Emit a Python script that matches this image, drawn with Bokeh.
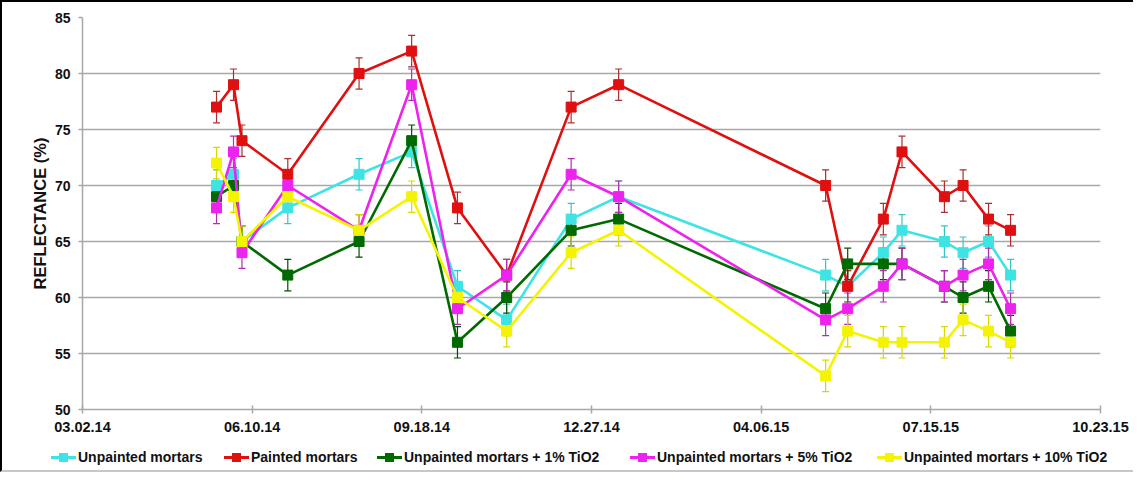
import pandas as pd
from bokeh.plotting import figure
from bokeh.layouts import column
from bokeh.models import (ColumnDataSource, Whisker, FixedTicker, Div,
                          DatetimeTickFormatter, Range1d, TeeHead)
from bokeh.embed import file_html
from bokeh.resources import INLINE

# ---- data ----
DATES = ["2014-05-20", "2014-05-30", "2014-06-04", "2014-07-01", "2014-08-12",
         "2014-09-12", "2014-10-09", "2014-11-07", "2014-12-15", "2015-01-12",
         "2015-05-14", "2015-05-27", "2015-06-17", "2015-06-28", "2015-07-23",
         "2015-08-03", "2015-08-18", "2015-08-31"]

SERIES_NAMES = ["Unpainted mortars", "Painted mortars", "Unpainted mortars + 1% TiO2",
                "Unpainted mortars + 5% TiO2", "Unpainted mortars + 10% TiO2"]

UNPAINTED = [70, 71, 65, 68, 71, 73, 61, 58, 67, 69, 62, 61, 64, 66, 65, 64, 65, 62]
PAINTED = [77, 79, 74, 71, 80, 82, 68, 62, 77, 79, 70, 61, 67, 73, 69, 70, 67, 66]
TIO2_1 = [69, 70, 65, 62, 65, 74, 56, 60, 66, 67, 59, 63, 63, 63, 61, 60, 61, 57]
TIO2_5 = [68, 73, 64, 70, 66, 79, 59, 62, 71, 69, 58, 59, 61, 63, 61, 62, 63, 59]
TIO2_10 = [72, 69, 65, 69, 66, 69, 60, 57, 64, 66, 53, 57, 56, 56, 56, 58, 57, 56]

ERR_UNPAINTED = [1.4] * 18
ERR_PAINTED = [1.4] * 18
ERR_TIO2_1 = [1.4] * 18
ERR_TIO2_5 = [1.4] * 18
ERR_TIO2_10 = [1.4] * 18

TICK_DATES = ["2014-03-02", "2014-06-10", "2014-09-18", "2014-12-27",
              "2015-04-06", "2015-07-15", "2015-10-23"]
Y_TICKS = [50, 55, 60, 65, 70, 75, 80, 85]
Y_LABEL = "REFLECTANCE (%)"

COLORS = ["#3ee4e4", "#e01010", "#006a00", "#ee22ee", "#f4f400"]
ERR_COLORS = ["#38c4c4", "#a83030", "#004d00", "#b030b0", "#d8d800"]

FONT = "Liberation Sans"
LEGEND_LEFTS = [49, 222, 375, 628, 875]   # layout: left edge of each legend entry (px)

# ---- main figure ----
dates = pd.to_datetime(DATES)
tick_ms = [int(pd.Timestamp(d).value // 10**6) for d in TICK_DATES]

p = figure(width=1133, height=442, x_axis_type="datetime",
           output_backend="svg", toolbar_location=None,
           x_range=Range1d(pd.Timestamp(TICK_DATES[0]), pd.Timestamp(TICK_DATES[-1])),
           y_range=Range1d(Y_TICKS[0], Y_TICKS[-1]),
           min_border_left=80, min_border_right=35, min_border_top=15,
           min_border_bottom=35)
p.styles = {"border-left": "2px solid #000", "border-top": "2px solid #000"}
p.outline_line_color = None
p.background_fill_color = "white"
p.border_fill_color = "white"

p.xgrid.grid_line_color = None
p.ygrid.grid_line_color = "#a8a8a8"
p.ygrid.grid_line_width = 1.5

p.xaxis.ticker = FixedTicker(ticks=tick_ms)
fmt = "%m.%d.%y"
p.xaxis.formatter = DatetimeTickFormatter(milliseconds=fmt, seconds=fmt, minsec=fmt,
                                          minutes=fmt, hourmin=fmt, hours=fmt, days=fmt,
                                          months=fmt, years=fmt)
p.yaxis.ticker = FixedTicker(ticks=Y_TICKS)

for ax in (p.xaxis[0], p.yaxis[0]):
    ax.axis_line_color = "#a8a8a8"
    ax.axis_line_width = 1.5
    ax.major_tick_line_color = "#a8a8a8"
    ax.major_tick_line_width = 1.5
    ax.minor_tick_line_color = None
    ax.major_label_text_font = FONT
    ax.major_label_text_font_style = "bold"
    ax.major_label_text_color = "#111111"

p.xaxis.major_label_text_font_size = "14.5px"
p.yaxis.major_label_text_font_size = "14px"
p.xaxis.major_tick_in = 4
p.xaxis.major_tick_out = 4
p.xaxis.major_label_standoff = 8
p.yaxis.major_tick_in = 0
p.yaxis.major_tick_out = 4
p.yaxis.major_label_standoff = 8
p.yaxis.axis_label = Y_LABEL
p.yaxis.axis_label_text_font = FONT
p.yaxis.axis_label_text_font_style = "bold"
p.yaxis.axis_label_text_font_size = "16.5px"
p.yaxis.axis_label_text_color = "#111111"
p.yaxis.axis_label_standoff = 3

all_vals = [UNPAINTED, PAINTED, TIO2_1, TIO2_5, TIO2_10]
all_errs = [ERR_UNPAINTED, ERR_PAINTED, ERR_TIO2_1, ERR_TIO2_5, ERR_TIO2_10]

for name, vals, errs, col, ecol in zip(SERIES_NAMES, all_vals, all_errs, COLORS, ERR_COLORS):
    src = ColumnDataSource(dict(
        x=dates, y=vals,
        upper=[v + e for v, e in zip(vals, errs)],
        lower=[v - e for v, e in zip(vals, errs)],
    ))
    wk = Whisker(base="x", upper="upper", lower="lower", source=src, dimension="height",
                 line_color=ecol, line_width=1.2,
                 upper_head=TeeHead(size=7, line_color=ecol, line_width=1.2),
                 lower_head=TeeHead(size=7, line_color=ecol, line_width=1.2))
    p.add_layout(wk)
    p.line("x", "y", source=src, line_color=col, line_width=2.6, legend_label=name)
    p.scatter("x", "y", source=src, marker="square", size=10,
              fill_color=col, line_color=col, legend_label=name)

p.legend.visible = False

# ---- legend strip (HTML, below the plot) ----
entries = []
for name, col, left in zip(SERIES_NAMES, COLORS, LEGEND_LEFTS):
    entries.append(
        f'<div style="position:absolute;left:{left}px;top:6px;height:18px;'
        f'display:flex;align-items:center;white-space:nowrap;">'
        f'<span style="position:relative;display:inline-block;width:25px;height:18px;margin-right:2px;">'
        f'<span style="position:absolute;left:0;top:8px;width:25px;height:3px;background:{col};"></span>'
        f'<span style="position:absolute;left:8px;top:5px;width:9px;height:9px;background:{col};"></span>'
        f'</span><span>{name}</span></div>'
    )
html = (f'<div style="position:relative;width:1133px;height:30px;font-family:\'{FONT}\';'
        f'font-weight:bold;font-size:14px;color:#111111;">' + "".join(entries) + '</div>')
legend_div = Div(text=html, width=1133, height=30, margin=(0, 0, 0, 0),
                 styles={"border-left": "2px solid #000",
                         "border-bottom": "2px solid #c8c8c8"})

layout = column(p, legend_div, spacing=0)
open("out.html", "w").write(file_html(layout, INLINE))
